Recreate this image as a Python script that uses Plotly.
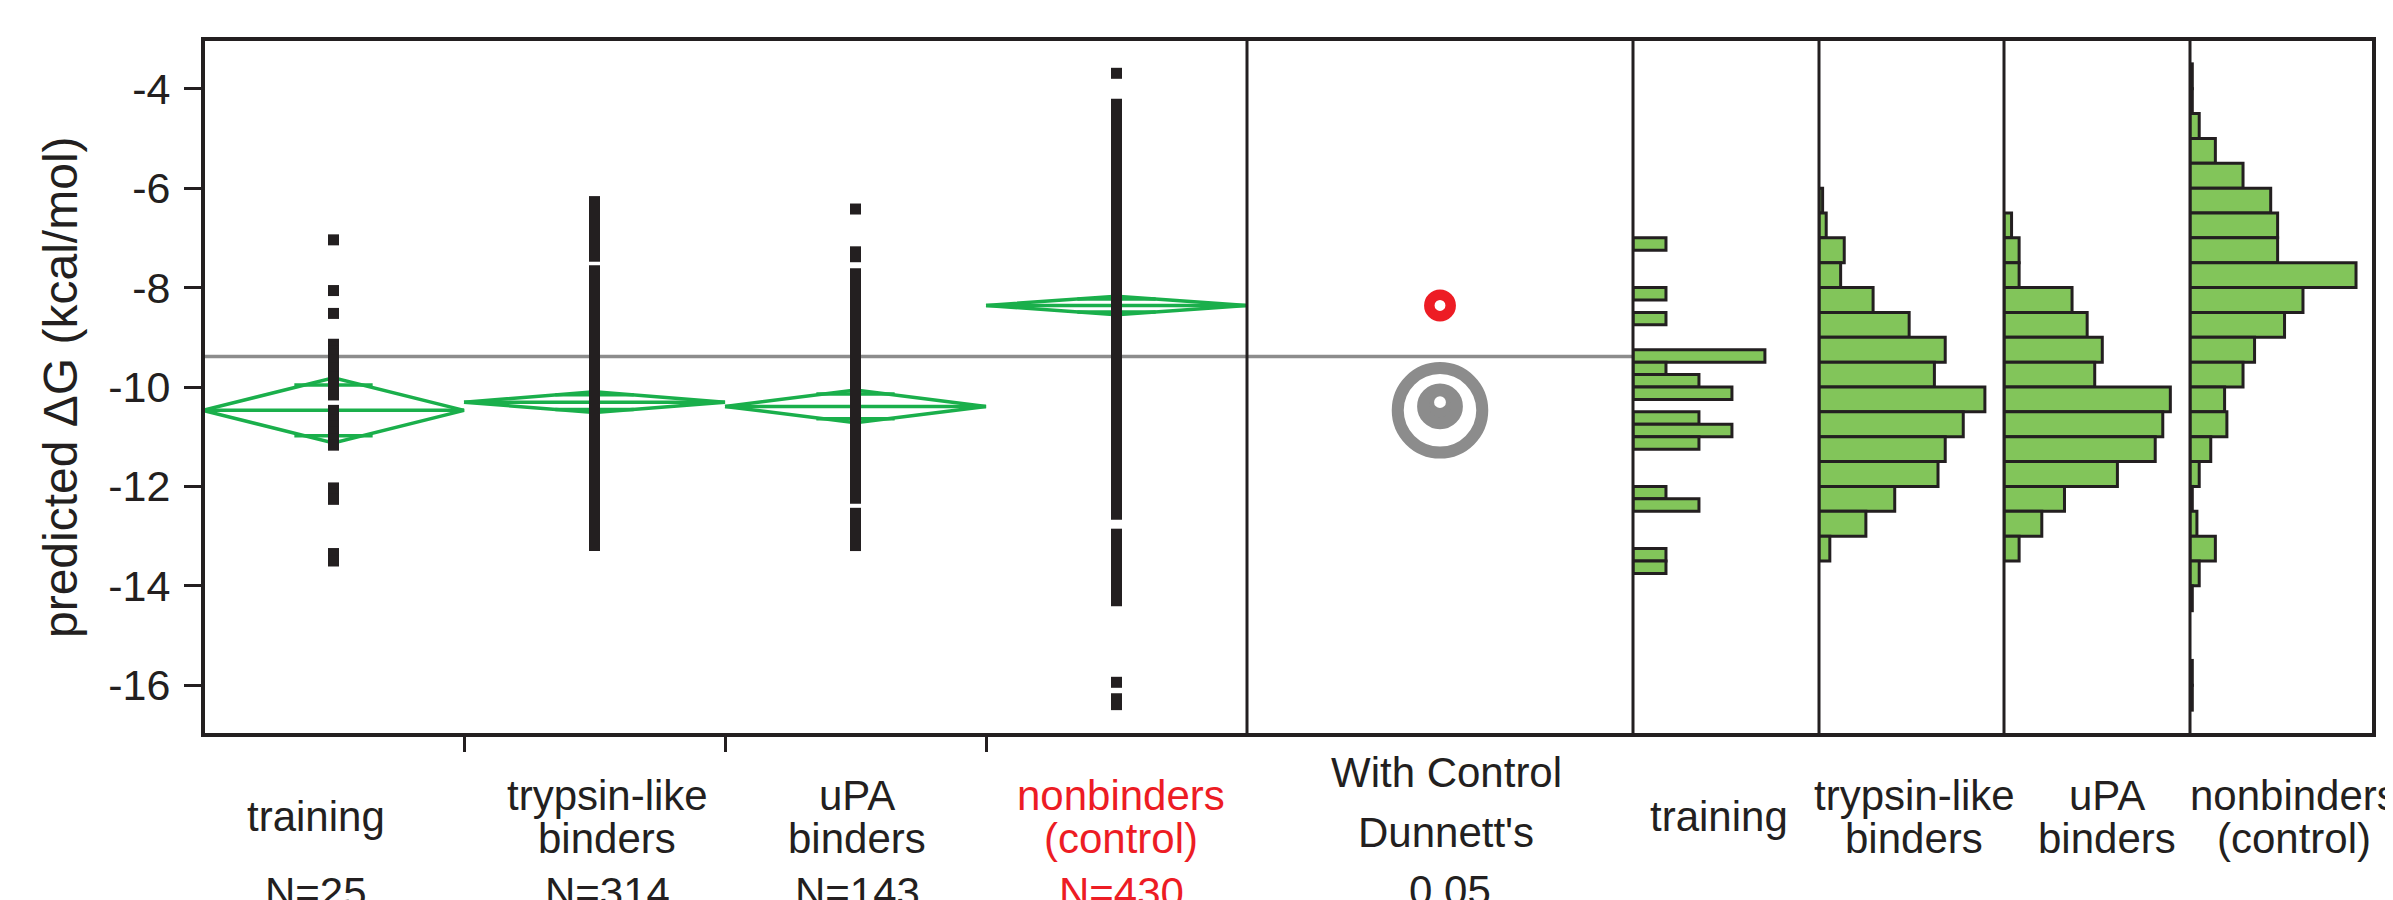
import plotly.graph_objects as go

W, H = 2393, 900
OFF = 8  # default page body margin

# ---------------- data ----------------
group_names = ["training", "trypsin-like binders", "uPA binders", "nonbinders (control)"]
group_n = [25, 314, 143, 430]
y_tick_vals = [-4, -6, -8, -10, -12, -14, -16]
y_tick_text = ["-4", "-6", "-8", "-10", "-12", "-14", "-16"]

# individual predicted dG values (training group)
training_points = [-7.04, -8.06, -8.52,
                   -9.14, -9.20, -9.27, -9.33, -9.45, -9.62, -9.80, -9.95, -10.05, -10.16,
                   -10.47, -10.55, -10.66, -10.78, -10.90, -11.05, -11.17,
                   -12.03, -12.15, -12.26,
                   -13.35, -13.50]
# dense groups: isolated points and continuous runs of overlapping points (top, bottom)
trypsin_points = []
trypsin_runs = [(-6.16, -7.48), (-7.55, -13.30)]
upa_points = [-6.42]
upa_runs = [(-7.17, -7.49), (-7.61, -12.35), (-12.43, -13.30)]
nonbinder_points = [-3.69, -15.94]
nonbinder_runs = [(-4.20, -12.67), (-12.85, -14.41), (-16.16, -16.50)]

# means diamonds
group_means = [-10.47, -10.305, -10.39, -8.36]
group_ci = [0.655, 0.21, 0.33, 0.185]
group_overlap = [0.51, 0.15, 0.25, 0.13]
grand_mean = -9.385

# Dunnett comparison circles (radius in dG units)
circle_radius = [0.85, 0.24, 0.34, 0.215]
circle_is_control = [False, False, False, True]

# histograms
train_hist_centers = [-7.125, -8.125, -8.625, -9.375, -9.625, -9.875, -10.125,
                      -10.625, -10.875, -11.125, -12.125, -12.375, -13.375, -13.625]
train_hist_counts = [1, 1, 1, 4, 1, 2, 3, 2, 3, 2, 1, 2, 1, 1]
train_bin_width = 0.25

trypsin_hist_centers = [-6.25, -6.75, -7.25, -7.75, -8.25, -8.75, -9.25, -9.75,
                        -10.25, -10.75, -11.25, -11.75, -12.25, -12.75, -13.25]
trypsin_hist_counts = [1, 2, 7, 6, 15, 25, 35, 32, 46, 40, 35, 33, 21, 13, 3]

upa_hist_centers = [-6.75, -7.25, -7.75, -8.25, -8.75, -9.25, -9.75,
                    -10.25, -10.75, -11.25, -11.75, -12.25, -12.75, -13.25]
upa_hist_counts = [1, 2, 2, 9, 11, 13, 12, 22, 21, 20, 15, 8, 5, 2]

nonbinder_hist_centers = [-3.75, -4.25, -4.75, -5.25, -5.75, -6.25, -6.75, -7.25, -7.75,
                          -8.25, -8.75, -9.25, -9.75, -10.25, -10.75, -11.25, -11.75,
                          -12.25, -12.75, -13.25, -13.75, -14.25, -15.75, -16.25]
nonbinder_hist_counts = [1, 1, 4, 11, 23, 35, 38, 38, 72, 49, 41, 28, 23, 15, 16, 9, 4,
                         1, 3, 11, 4, 1, 1, 1]
other_bin_width = 0.5

# ---------------- style ----------------
INK = "#231f20"
RED = "#ed1c24"
GREEN_LINE = "#1aaf4b"
GREEN_FILL = "#82c55a"
GREY = "#8c8c8c"
FONT = "Liberation Sans, Arial, Helvetica, sans-serif"

FW, FH = W - OFF, H - OFF

def px_x(p):
    return (p - OFF) / FW

def px_y(p):
    return 1 - (p - OFF) / FH

# panel edges in page pixels
main_l, main_r = 203, 1247
dun_r = 1633
hist_edges = [1633, 1819, 2004, 2190, 2374]
plot_top, plot_bot = 39, 735

fig = go.Figure()

# ---- means diamonds (main panel) ----
dx, dy = [], []
for i, (m, c, o) in enumerate(zip(group_means, group_ci, group_overlap)):
    dx += [i - 0.5, i, i + 0.5, i, i - 0.5, None, i - 0.5, i + 0.5, None,
           i - 0.15, i + 0.15, None, i - 0.15, i + 0.15, None]
    dy += [m, m + c, m, m - c, m, None, m, m, None,
           m + o, m + o, None, m - o, m - o, None]
fig.add_trace(go.Scatter(x=dx, y=dy, mode="lines", line=dict(color=GREEN_LINE, width=3.5),
                         xaxis="x", yaxis="y", hoverinfo="skip", showlegend=False))

# ---- points ----
point_sets = [training_points, trypsin_points, upa_points, nonbinder_points]
run_sets = [[], trypsin_runs, upa_runs, nonbinder_runs]
rx, ry = [], []
for i, runs in enumerate(run_sets):
    for top, bot in runs:
        rx += [i, i, None]
        ry += [top, bot, None]
fig.add_trace(go.Scatter(x=rx, y=ry, mode="lines", line=dict(color=INK, width=11),
                         xaxis="x", yaxis="y", hoverinfo="skip", showlegend=False))
px_, py_ = [], []
for i, pts in enumerate(point_sets):
    px_ += [i] * len(pts)
    py_ += pts
fig.add_trace(go.Scatter(x=px_, y=py_, mode="markers",
                         marker=dict(symbol="square", size=11, color=INK, line=dict(width=0)),
                         xaxis="x", yaxis="y", hoverinfo="skip", showlegend=False))

# ---- histograms ----
hists = [
    (train_hist_centers, train_hist_counts, train_bin_width, "x3"),
    (trypsin_hist_centers, trypsin_hist_counts, other_bin_width, "x4"),
    (upa_hist_centers, upa_hist_counts, other_bin_width, "x5"),
    (nonbinder_hist_centers, nonbinder_hist_counts, other_bin_width, "x6"),
]
for centers, counts, bw, xa in hists:
    fig.add_trace(go.Bar(y=centers, x=counts, orientation="h", width=[bw] * len(centers),
                         marker=dict(color=GREEN_FILL, line=dict(color=INK, width=3)),
                         xaxis=xa, yaxis="y", hoverinfo="skip", showlegend=False))

# ---- shapes ----
shapes = []
# grand mean line across oneway + Dunnett panels
shapes.append(dict(type="line", xref="paper", yref="y", x0=px_x(main_l), x1=px_x(dun_r),
                   y0=grand_mean, y1=grand_mean, line=dict(color=GREY, width=3.5), layer="below"))
# Dunnett comparison circles
for m, r, ctrl in zip(group_means, circle_radius, circle_is_control):
    shapes.append(dict(type="circle", xref="x2", yref="y", x0=-r, x1=r, y0=m - r, y1=m + r,
                       line=dict(color=RED if ctrl else GREY, width=10.5 if ctrl else 12),
                       fillcolor="rgba(0,0,0,0)", layer="above"))
# frame and dividers
for xe in [main_r] + hist_edges[:-1]:
    shapes.append(dict(type="line", xref="paper", yref="paper", x0=px_x(xe), x1=px_x(xe),
                       y0=px_y(plot_bot), y1=px_y(plot_top), line=dict(color=INK, width=3)))
shapes.append(dict(type="rect", xref="paper", yref="paper", x0=px_x(main_l), x1=px_x(hist_edges[-1]),
                   y0=px_y(plot_bot), y1=px_y(plot_top), line=dict(color=INK, width=4)))

# ---- labels ----
ann = []
def label(text, xp, yp, color=INK, size=42):
    ann.append(dict(text=text, x=px_x(xp), y=px_y(yp), xref="paper", yref="paper",
                    xanchor="center", yanchor="middle", showarrow=False,
                    font=dict(family=FONT, size=size, color=color)))

main_label_x = [316, 607, 857, 1121]
main_label_lines = [["training"], ["trypsin-like", "binders"], ["uPA", "binders"],
                    ["nonbinders", "(control)"]]
for k, (xp, lines) in enumerate(zip(main_label_x, main_label_lines)):
    col = RED if k == 3 else INK
    if len(lines) == 1:
        label(lines[0], xp, 816, col)
    else:
        label(lines[0], xp, 795, col)
        label(lines[1], xp, 838, col)
    label("N=%d" % group_n[k], xp, 892, col)

label("With Control", 1446, 772)
label("Dunnett's", 1446, 832)
label("0.05", 1450, 890)

hist_label_x = [1719, 1914, 2107, 2294]
for xp, lines in zip(hist_label_x, main_label_lines):
    if len(lines) == 1:
        label(lines[0], xp, 816)
    else:
        label(lines[0], xp, 795)
        label(lines[1], xp, 838)

ann.append(dict(text="predicted \u0394G (kcal/mol)", x=px_x(60), y=px_y((plot_top + plot_bot) / 2),
                xref="paper", yref="paper", xanchor="center", yanchor="middle", textangle=-90,
                showarrow=False, font=dict(family=FONT, size=48, color=INK)))

# ---- axes ----
ydom = [px_y(plot_bot), px_y(plot_top)]
yrange = [-17, -3]
unit_px = (plot_bot - plot_top) / (yrange[1] - yrange[0])
dun_half = (dun_r - main_r) / unit_px / 2

hidden = dict(visible=False, showgrid=False, zeroline=False, fixedrange=True, anchor="y")
hist_ranges = [[0, 5.64], [0, 51.3], [0, 24.6], [0, 79.8]]

layout = dict(
    width=FW, height=FH, margin=dict(l=0, r=0, t=0, b=0, pad=0),
    paper_bgcolor="white", plot_bgcolor="rgba(0,0,0,0)",
    showlegend=False, barmode="overlay",
    xaxis=dict(domain=[px_x(main_l), px_x(main_r)], range=[-0.5, 3.5], anchor="y",
               tickvals=[0.5, 1.5, 2.5], ticktext=["", "", ""], ticks="outside",
               ticklen=16, tickwidth=3, tickcolor=INK, showgrid=False, zeroline=False,
               showline=False, fixedrange=True),
    xaxis2=dict(domain=[px_x(main_r), px_x(dun_r)], range=[-dun_half, dun_half], **hidden),
    yaxis=dict(domain=ydom, range=yrange, anchor="x", tickvals=y_tick_vals, ticktext=y_tick_text,
               ticks="outside", ticklen=18, tickwidth=3, tickcolor=INK, showgrid=False,
               zeroline=False, showline=False, fixedrange=True, ticklabelstandoff=5,
               tickfont=dict(family=FONT, size=43, color=INK)),
    shapes=shapes, annotations=ann,
)
for k in range(4):
    layout["xaxis%d" % (k + 3)] = dict(domain=[px_x(hist_edges[k]), px_x(hist_edges[k + 1])],
                                       range=hist_ranges[k], **hidden)
fig.update_layout(**layout)

fig.write_html("out.html")
